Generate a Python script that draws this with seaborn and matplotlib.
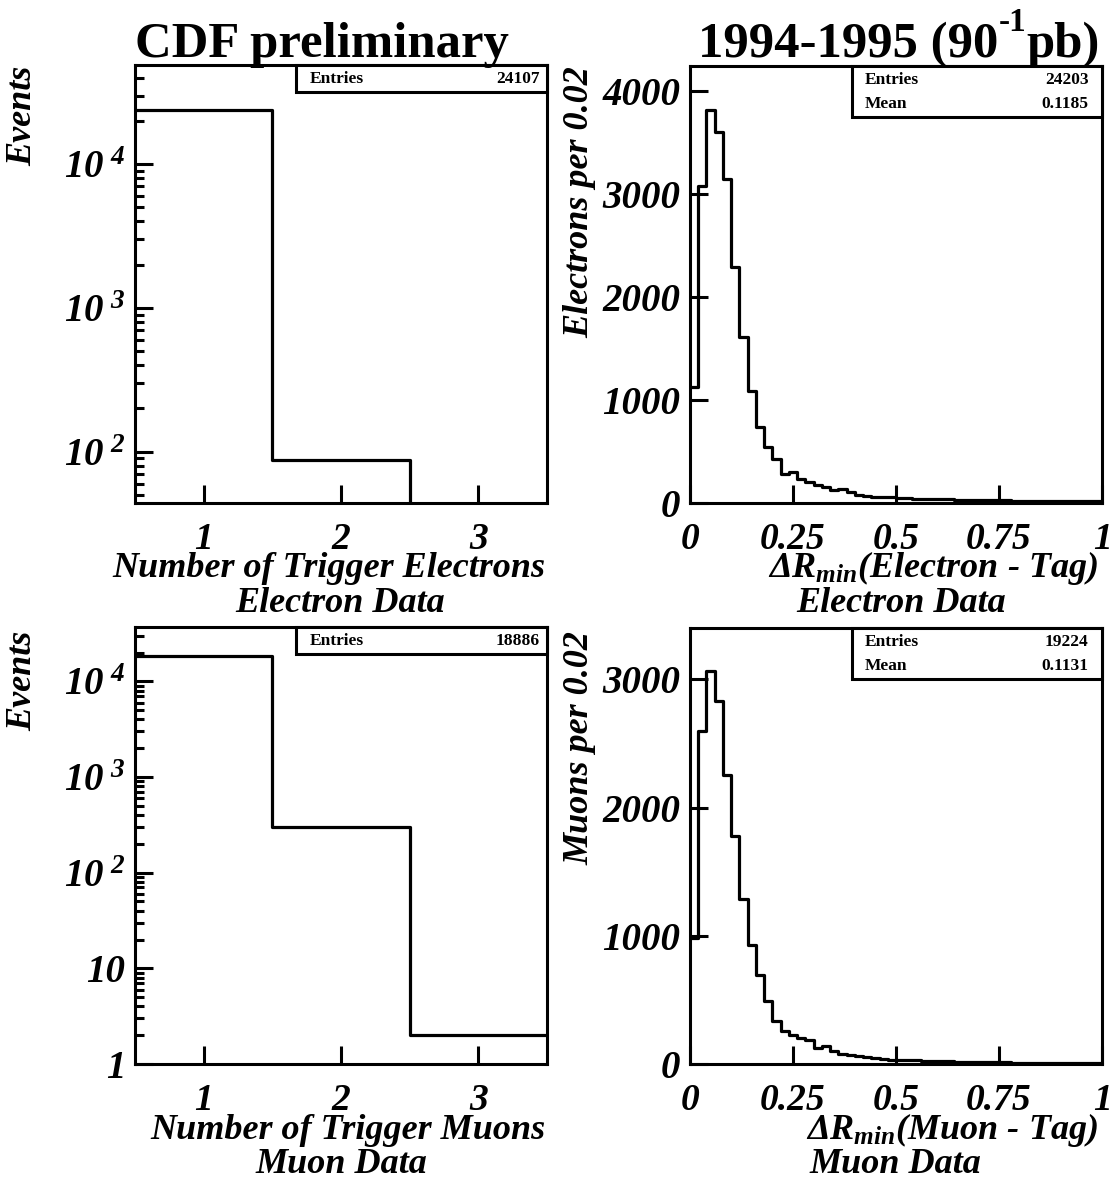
import numpy as np
import pandas as pd
import matplotlib
matplotlib.use('Agg')
import matplotlib.pyplot as plt
import seaborn as sns
from matplotlib.patches import Rectangle
from matplotlib.ticker import FixedLocator, LogLocator, NullFormatter, FuncFormatter

# number of trigger leptons per event (bins centred on 1, 2, 3)
n_trig = [1, 2, 3]
n_trig_edges = [0.5, 1.5, 2.5, 3.5]
ele_ntrig_counts = [24019, 88, 0]
mu_ntrig_counts = [18584, 300, 2]

# delta R_min (lepton - tag), 50 bins of 0.02 between 0 and 1
dr_edges = [round(i * 0.02, 2) for i in range(51)]
dr_centers = [round(e + 0.01, 3) for e in dr_edges[:-1]]
ele_dr_counts = [1129, 3072, 3813, 3596, 3143, 2286, 1614, 1084, 741, 540,
                 427, 282, 298, 234, 201, 178, 152, 127, 137, 104,
                 81, 72, 62, 55, 55, 50, 45, 42, 40, 38,
                 36, 34, 32, 30, 30, 28, 27, 26, 25, 24,
                 23, 22, 21, 20, 20, 19, 18, 18, 17, 16]
mu_dr_counts = [985, 2595, 3065, 2830, 2255, 1780, 1285, 925, 695, 495,
                335, 258, 230, 203, 190, 126, 138, 102, 80, 70,
                60, 52, 45, 40, 35, 32, 30, 28, 25, 22,
                20, 20, 18, 16, 15, 14, 13, 12, 12, 11,
                10, 10, 9, 9, 8, 8, 8, 7, 7, 6]

# stats boxes
ele_ntrig_entries = '24107'
mu_ntrig_entries = '18886'
ele_dr_stats = ('24203', '0.1185')
mu_dr_stats = ('19224', '0.1131')

W, H = 1112, 1180

sns.set_style('ticks')
plt.rcParams['font.family'] = ['Liberation Serif', 'DejaVu Serif']
plt.rcParams['font.weight'] = 'bold'
plt.rcParams['font.style'] = 'italic'
plt.rcParams['mathtext.fontset'] = 'custom'
plt.rcParams['mathtext.rm'] = 'Liberation Serif:bold'
plt.rcParams['mathtext.it'] = 'Liberation Serif:bold:italic'
plt.rcParams['mathtext.bf'] = 'Liberation Serif:bold'
plt.rcParams['axes.linewidth'] = 2.2
for key in ['text.color', 'axes.edgecolor', 'axes.labelcolor', 'xtick.color', 'ytick.color']:
    plt.rcParams[key] = 'black'

fig = plt.figure(figsize=(W / 100, H / 100), dpi=100)


def fx(px):
    return px / W


def fy(py):
    return 1 - py / H


def add_axes(left, top, right, bottom):
    return fig.add_axes([fx(left), fy(bottom), (right - left) / W, (bottom - top) / H])


def draw_hist(ax, centers, counts, edges, log=False):
    df = pd.DataFrame({'x': centers, 'w': counts})
    sns.histplot(data=df, x='x', weights='w', bins=list(edges), element='step',
                 fill=False, color='black', linewidth=2.3, ax=ax)
    if log:
        ax.set_yscale('log')
    ax.set_xlabel('')
    ax.set_ylabel('')
    for s in ax.spines.values():
        s.set_visible(True)
        s.set_linewidth(2.2)
        s.set_color('black')
    ax.tick_params(which='both', direction='in', width=2.2, labelsize=28,
                   top=False, right=False, colors='black')
    ax.tick_params(which='major', length=13)
    ax.tick_params(which='minor', length=6.5)
    ax.tick_params(axis='x', pad=13.5, labelsize=27)
    ax.tick_params(axis='y', pad=7)


def stats_box(ax, x0, y0, rows, xtext, xval):
    ax.add_patch(Rectangle((x0, y0), 1 - x0, 1 - y0, transform=ax.transAxes,
                           fill=True, facecolor='white', edgecolor='black',
                           linewidth=2.2, clip_on=False, zorder=5))
    for label, value, yy in rows:
        ax.text(xtext, yy, label, transform=ax.transAxes, fontsize=12.5,
                style='normal', weight='bold', va='center', ha='left', zorder=6)
        ax.text(xval, yy, value, transform=ax.transAxes, fontsize=12.5,
                style='normal', weight='bold', va='center', ha='right', zorder=6)


def log_label(v, pos):
    e = int(round(np.log10(v)))
    if e == 0:
        return '1'
    if e == 1:
        return '10'
    return r'$\mathit{10^{\ %d}}$' % e


def setup_log_y(ax, ymin, ymax):
    ax.set_ylim(ymin, ymax)
    ax.yaxis.set_major_locator(LogLocator(base=10))
    ax.yaxis.set_minor_locator(LogLocator(base=10, subs=range(2, 10)))
    ax.yaxis.set_major_formatter(FuncFormatter(log_label))
    ax.yaxis.set_minor_formatter(NullFormatter())
    ax.set_xlim(0.5, 3.5)
    ax.xaxis.set_major_locator(FixedLocator(n_trig))
    ax.xaxis.set_minor_locator(FixedLocator([]))


def setup_dr(ax, ymax, yticks):
    ax.set_xlim(0, 1)
    ax.set_ylim(0, ymax)
    ax.xaxis.set_major_locator(FixedLocator([0, 0.25, 0.5, 0.75, 1]))
    ax.xaxis.set_major_formatter(FuncFormatter(lambda v, p: '%g' % v))
    ax.yaxis.set_major_locator(FixedLocator(yticks))
    ax.yaxis.set_major_formatter(FuncFormatter(lambda v, p: '%d' % v))
    ax.minorticks_off()


# top left: trigger electrons
ax1 = add_axes(135, 65, 547, 503)
draw_hist(ax1, n_trig, ele_ntrig_counts, n_trig_edges, log=True)
setup_log_y(ax1, 44, 49000)
stats_box(ax1, 0.391, 0.938, [('Entries', ele_ntrig_entries, 0.968)], 0.425, 0.983)

# top right: delta R electrons
ax2 = add_axes(690, 66, 1102, 503)
draw_hist(ax2, dr_centers, ele_dr_counts, dr_edges)
setup_dr(ax2, 4240, [0, 1000, 2000, 3000, 4000])
stats_box(ax2, 0.393, 0.883, [('Entries', ele_dr_stats[0], 0.968),
                              ('Mean', ele_dr_stats[1], 0.913)], 0.425, 0.968)

# bottom left: trigger muons
ax3 = add_axes(135, 627, 547, 1064)
draw_hist(ax3, n_trig, mu_ntrig_counts, n_trig_edges, log=True)
setup_log_y(ax3, 1, 37000)
stats_box(ax3, 0.391, 0.938, [('Entries', mu_ntrig_entries, 0.968)], 0.425, 0.983)

# bottom right: delta R muons
ax4 = add_axes(690, 628, 1102, 1064)
draw_hist(ax4, dr_centers, mu_dr_counts, dr_edges)
setup_dr(ax4, 3400, [0, 1000, 2000, 3000])
stats_box(ax4, 0.393, 0.883, [('Entries', mu_dr_stats[0], 0.968),
                              ('Mean', mu_dr_stats[1], 0.913)], 0.425, 0.968)

# titles
fig.text(fx(135), fy(57), 'CDF preliminary', fontsize=36.5, style='normal',
         weight='bold', ha='left', va='baseline')

renderer = fig.canvas.get_renderer()
t_pb = fig.text(fx(1100), fy(57), 'pb)', fontsize=36.5, style='normal',
                weight='bold', ha='right', va='baseline')
left = t_pb.get_window_extent(renderer).x0 / W
t_exp = fig.text(left, fy(31), '-1', fontsize=24, style='normal',
                 weight='bold', ha='right', va='baseline')
left = t_exp.get_window_extent(renderer).x0 / W
fig.text(left, fy(57), '1994-1995 (90', fontsize=36.5, style='normal',
         weight='bold', ha='right', va='baseline')

# axis titles
lab = dict(fontsize=26, style='italic', weight='bold')
fig.text(fx(23), fy(66), 'Events', rotation=90, ha='center', va='top', **lab)
fig.text(fx(23), fy(631), 'Events', rotation=90, ha='center', va='top', **lab)
fig.text(fx(580), fy(66), 'Electrons per 0.02', rotation=90, ha='center', va='top', **lab)
fig.text(fx(580), fy(631), 'Muons per 0.02', rotation=90, ha='center', va='top', **lab)

fig.text(fx(545), fy(577), 'Number of Trigger Electrons', ha='right', va='baseline', **lab)
fig.text(fx(340), fy(612), 'Electron Data', ha='center', va='baseline', **lab)
fig.text(fx(1098), fy(577), r'$\mathbf{\Delta}R_{min}$(Electron - Tag)', ha='right', va='baseline', **lab)
fig.text(fx(901), fy(612), 'Electron Data', ha='center', va='baseline', **lab)

fig.text(fx(545), fy(1139), 'Number of Trigger Muons', ha='right', va='baseline', **lab)
fig.text(fx(341), fy(1173), 'Muon Data', ha='center', va='baseline', **lab)
fig.text(fx(1098), fy(1139), r'$\mathbf{\Delta}R_{min}$(Muon - Tag)', ha='right', va='baseline', **lab)
fig.text(fx(895), fy(1173), 'Muon Data', ha='center', va='baseline', **lab)

fig.savefig('out.png', dpi=100)
